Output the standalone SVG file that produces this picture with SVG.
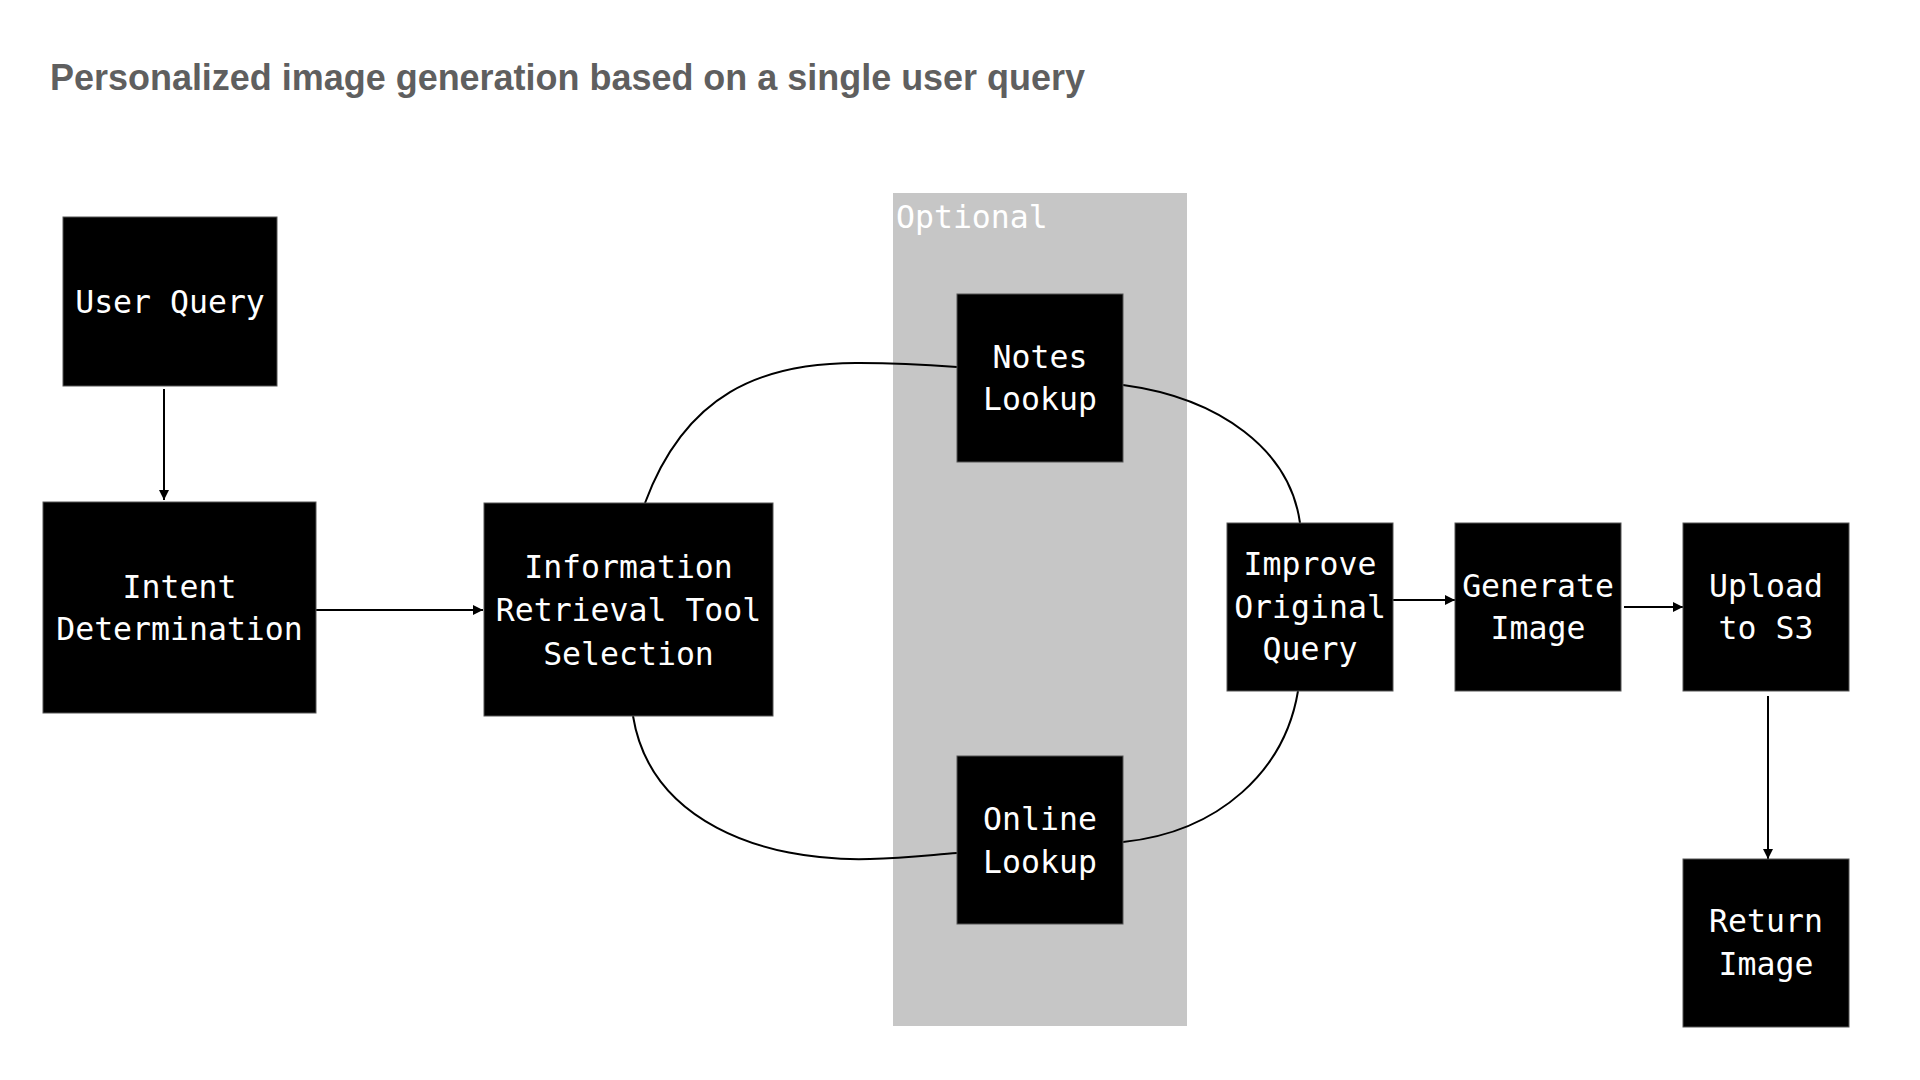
<svg xmlns="http://www.w3.org/2000/svg" width="1920" height="1080" viewBox="0 0 1920 1080">
<defs>
<style>
.title{font-family:"Liberation Sans",Arial,sans-serif;font-weight:bold;font-size:36px;fill:#5f5f5f}
.box{fill:#000;stroke:#555;stroke-width:1}
.lbl{font-family:"DejaVu Sans Mono","Liberation Mono",monospace;font-size:31.5px;fill:#fff;text-anchor:middle}
.opt{font-family:"DejaVu Sans Mono","Liberation Mono",monospace;font-size:31.5px;fill:#fff}
.edge{fill:none;stroke:#000;stroke-width:2}
</style>
<marker id="arr" viewBox="0 0 10 10" refX="10" refY="5" markerWidth="10" markerHeight="10" markerUnits="userSpaceOnUse" orient="auto">
<path d="M0,0 L10,5 L0,10 z" fill="#000"/>
</marker>
</defs>
<rect width="1920" height="1080" fill="#fff"/>
<text class="title" x="50" y="90" textLength="1035" lengthAdjust="spacingAndGlyphs">Personalized image generation based on a single user query</text>

<g id="optional-region">
<rect x="893" y="193" width="294" height="833" fill="#c6c6c6"/>
<text class="opt" x="896" y="228">Optional</text>
</g>

<g id="connectors">
<line class="edge" x1="164" y1="389" x2="164" y2="500" marker-end="url(#arr)"/>
<line class="edge" x1="316" y1="610" x2="483" y2="610" marker-end="url(#arr)"/>
<path class="edge" d="M645,503 C685,395 760,362 860,363 C900,363 930,365 957,367"/>
<path class="edge" d="M1123,385 C1220,398 1290,450 1300,523"/>
<path class="edge" d="M633,716 C650,820 760,862 870,859 C905,858 930,855 957,853"/>
<path class="edge" d="M1123,842 C1220,832 1285,770 1298,691"/>
<line class="edge" x1="1393" y1="600" x2="1455" y2="600" marker-end="url(#arr)"/>
<line class="edge" x1="1624" y1="607" x2="1683" y2="607" marker-end="url(#arr)"/>
<line class="edge" x1="1768" y1="696" x2="1768" y2="859" marker-end="url(#arr)"/>
</g>

<g id="user-query">
<rect class="box" x="63" y="217" width="214" height="169"/>
<text class="lbl" x="170" y="313">User Query</text>
</g>
<g id="intent-determination">
<rect class="box" x="43" y="502" width="273" height="211"/>
<text class="lbl" x="179.5" y="598">Intent</text>
<text class="lbl" x="179.5" y="640">Determination</text>
</g>
<g id="info-retrieval">
<rect class="box" x="484" y="503" width="289" height="213"/>
<text class="lbl" x="628.5" y="578">Information</text>
<text class="lbl" x="628.5" y="621">Retrieval Tool</text>
<text class="lbl" x="628.5" y="665">Selection</text>
</g>
<g id="notes-lookup">
<rect class="box" x="957" y="294" width="166" height="168"/>
<text class="lbl" x="1040" y="368">Notes</text>
<text class="lbl" x="1040" y="410">Lookup</text>
</g>
<g id="online-lookup">
<rect class="box" x="957" y="756" width="166" height="168"/>
<text class="lbl" x="1040" y="830">Online</text>
<text class="lbl" x="1040" y="873">Lookup</text>
</g>
<g id="improve-query">
<rect class="box" x="1227" y="523" width="166" height="168"/>
<text class="lbl" x="1310" y="575">Improve</text>
<text class="lbl" x="1310" y="618">Original</text>
<text class="lbl" x="1310" y="660">Query</text>
</g>
<g id="generate-image">
<rect class="box" x="1455" y="523" width="166" height="168"/>
<text class="lbl" x="1538" y="597">Generate</text>
<text class="lbl" x="1538" y="639">Image</text>
</g>
<g id="upload-s3">
<rect class="box" x="1683" y="523" width="166" height="168"/>
<text class="lbl" x="1766" y="597">Upload</text>
<text class="lbl" x="1766" y="639">to S3</text>
</g>
<g id="return-image">
<rect class="box" x="1683" y="859" width="166" height="168"/>
<text class="lbl" x="1766" y="932">Return</text>
<text class="lbl" x="1766" y="975">Image</text>
</g>
</svg>
